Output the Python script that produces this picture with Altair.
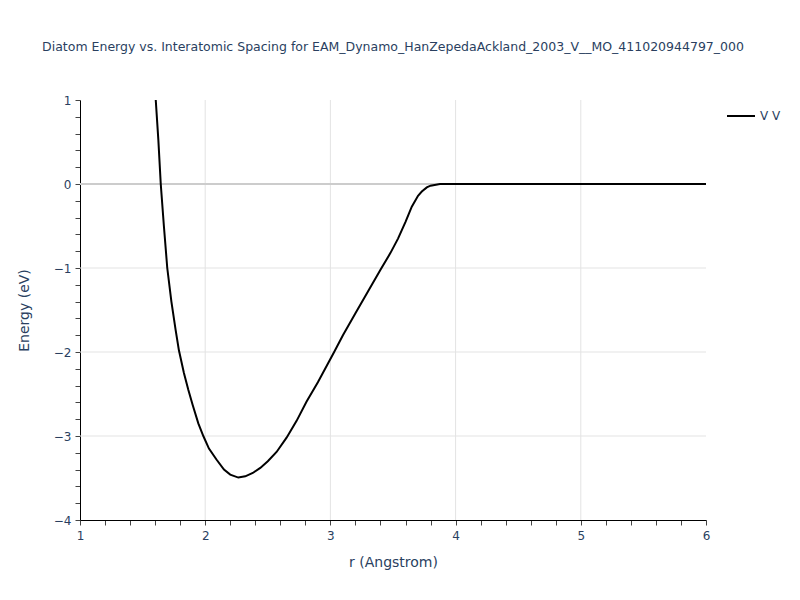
import altair as alt
import pandas as pd

# Curve
r_vals = [1.605, 1.626, 1.645, 1.67, 1.697, 1.73, 1.764, 1.79, 1.83, 1.865, 1.90, 1.945,
          1.985, 2.03, 2.09, 2.15, 2.20, 2.265, 2.32, 2.38, 2.44, 2.50, 2.57, 2.65, 2.73,
          2.81, 2.90, 3.03, 3.10, 3.20, 3.30, 3.40, 3.48, 3.54, 3.60, 3.65, 3.70, 3.73,
          3.77, 3.80, 3.875, 3.95, 4.0, 4.5, 5.0, 5.5, 6.0]
e_vals = [1.0, 0.52, 0.0, -0.5, -1.0, -1.40, -1.74, -1.98, -2.25, -2.45, -2.63, -2.85,
          -3.0, -3.15, -3.28, -3.40, -3.46, -3.495, -3.48, -3.44, -3.38, -3.30, -3.19, -3.02, -2.82,
          -2.59, -2.36, -2.0, -1.80, -1.54, -1.28, -1.02, -0.82, -0.65, -0.45, -0.27, -0.14, -0.09,
          -0.04, -0.02, 0.0, 0.0, 0.0, 0.0, 0.0, 0.0, 0.0]
series_name = "V V"

x_grid = [2, 3, 4, 5]
y_grid = [-1, -2, -3]
y_zero = [0]
x_ticks = [round(1 + 0.2 * i, 1) for i in range(26)]
y_ticks = [round(-4 + 0.2 * i, 1) for i in range(26)]

title_text = "Diatom Energy vs. Interatomic Spacing for EAM_Dynamo_HanZepedaAckland_2003_V__MO_411020944797_000"

FONT = "DejaVu Sans"
TXT = "#2a3f5f"

df = pd.DataFrame({"r": r_vals, "E": e_vals, "series": [series_name] * len(r_vals)})

xscale = alt.Scale(domain=[1, 6], nice=False, zero=False)
yscale = alt.Scale(domain=[-4, 1], nice=False, zero=False)

label_expr = "abs(datum.value - round(datum.value)) < 1e-6 ? format(datum.value, 'd') : ''"

x_axis = alt.Axis(values=x_ticks, labelExpr=label_expr, grid=False, tickSize=5,
                  tickColor="#444", domainColor="#000", labelColor=TXT, labelFont=FONT,
                  labelFontSize=12, labelOverlap=False, labelPadding=5, labelFlush=False,
                  titleFont=FONT, titleFontSize=14, titleColor=TXT, titleFontWeight="normal",
                  titlePadding=14)
y_axis = alt.Axis(values=y_ticks, labelExpr=label_expr, grid=False, tickSize=5,
                  tickColor="#444", domainColor="#000", labelColor=TXT, labelFont=FONT,
                  labelFontSize=12, labelOverlap=False, labelPadding=4, labelFlush=False,
                  titleFont=FONT, titleFontSize=14, titleColor=TXT, titleFontWeight="normal",
                  titlePadding=22)

X = lambda: alt.X("r:Q", scale=xscale, title="r (Angstrom)", axis=x_axis)
Y = lambda: alt.Y("E:Q", scale=yscale, title="Energy (eV)", axis=y_axis)

xgrid = alt.Chart(pd.DataFrame({"r": x_grid})).mark_rule(color="#e3e3e3", strokeWidth=1).encode(x=X())
ygrid = alt.Chart(pd.DataFrame({"E": y_grid})).mark_rule(color="#e3e3e3", strokeWidth=1).encode(y=Y())
yzero = alt.Chart(pd.DataFrame({"E": y_zero})).mark_rule(color="#cccccc", strokeWidth=2).encode(y=Y())

line = alt.Chart(df).mark_line(strokeWidth=2, clip=True).encode(
    x=X(),
    y=Y(),
    color=alt.Color("series:N", scale=alt.Scale(range=["black"]),
                    legend=alt.Legend(title=None, orient="none", legendX=646, legendY=1,
                                      symbolType="stroke", symbolSize=784, symbolStrokeWidth=2,
                                      labelFont=FONT, labelFontSize=12, labelColor=TXT,
                                      padding=0)),
)

chart = alt.layer(xgrid, ygrid, yzero, line).properties(
    width=626, height=420,
    title=alt.TitleParams(title_text, font=FONT, fontSize=12.5, color=TXT, fontWeight="normal",
                          anchor="middle", offset=41),
    autosize=alt.AutoSizeParams(type="none"),
    padding={"left": 72, "top": 92, "right": 86, "bottom": 72},
).configure_view(stroke=None)

chart.save("out.html", embed_options={"renderer": "svg", "actions": False})
